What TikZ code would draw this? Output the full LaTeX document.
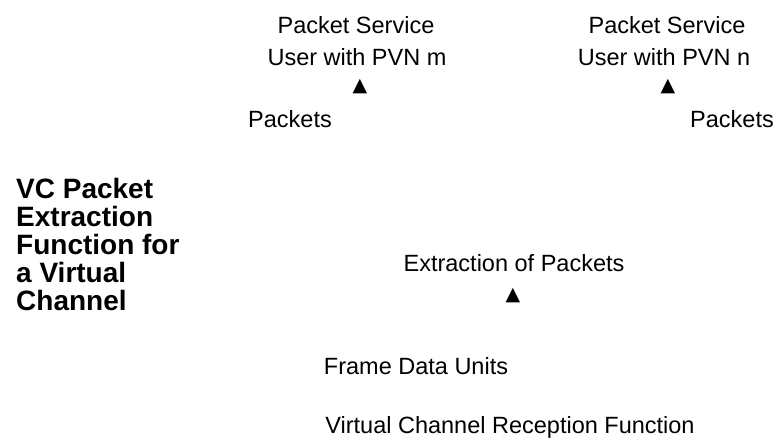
\documentclass[tikz,border=0pt]{standalone}
\usepackage{fontspec}
\setmainfont{Liberation Sans}
\newfontfamily\symfont{DejaVu Sans}
\begin{document}
\begin{tikzpicture}[x=1pt,y=-1pt]

% font size of the labels
\def\fs{23.5}
% node style definition
\tikzstyle{lbl} = [
	inner sep=0pt, anchor=base,
	font=\fontsize{\fs}{\fs}\selectfont ];
\tikzstyle{ttl} = [
	inner sep=0pt, anchor=base west,
	font=\fontsize{28}{28}\selectfont\bfseries ];
\tikzstyle{tip} = [
	inner sep=0pt,
	font=\fontsize{19}{19}\selectfont\symfont ];

\useasboundingbox (0,0) rectangle (778,437);

\node[lbl] (svcm) at (356,33) {Packet Service};
\node[lbl] (usrm) at (357,65) {User with PVN m};
\node[tip] (tipm) at (360,87) {▲};
\node[lbl] (pktm) at (290,127) {Packets};

\node[lbl] (svcn) at (667,33) {Packet Service};
\node[lbl] (usrn) at (664,65) {User with PVN n};
\node[tip] (tipn) at (668,87) {▲};
\node[lbl] (pktn) at (732,127) {Packets};

\node[ttl] (ttl0) at (16,198) {VC Packet};
\node[ttl] (ttl1) at (16,226) {Extraction};
\node[ttl] (ttl2) at (16,254) {Function for};
\node[ttl] (ttl3) at (16,282) {a Virtual};
\node[ttl] (ttl4) at (16,310) {Channel};

\node[lbl] (extr) at (514,271) {Extraction of Packets};
\node[tip] (tipx) at (513,296) {▲};

\node[lbl] (fdu) at (416,374) {Frame Data Units};
\node[lbl] (vcrf) at (510,433) {Virtual Channel Reception Function};

\end{tikzpicture}
\end{document}
